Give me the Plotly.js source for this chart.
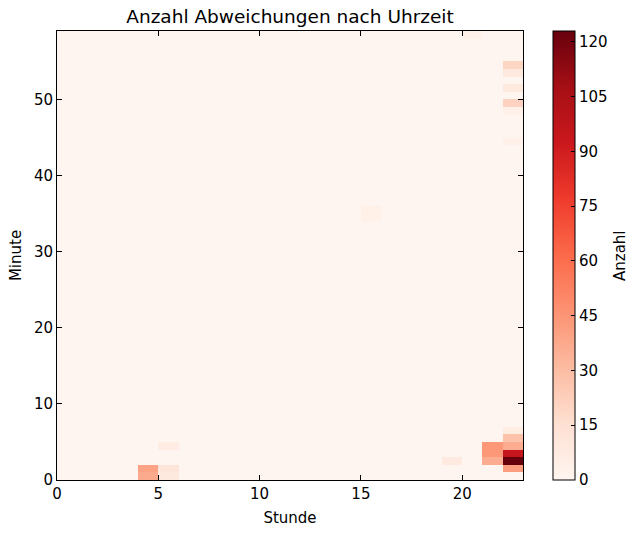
<!DOCTYPE html>
<html>
<head>
<meta charset="utf-8">
<script src="https://cdn.plot.ly/plotly-3.0.1.min.js"></script>
<style>html,body{margin:0;padding:0;background:#fff;}#chart{width:640px;height:536px;}</style>
</head>
<body>
<div id="chart"></div>
<script>
// Bin edges: hours 0..23, minutes 0..59
var hourEdges = [];
for (var h = 0; h <= 23; h++) hourEdges.push(h);
var minuteEdges = [];
for (var m = 0; m <= 59; m++) minuteEdges.push(m);

// Non-zero cells (hour, minute, count)
var cellHours   = [22, 22, 22, 22, 22, 22, 21, 21, 21, 19, 4, 4, 5, 5, 5, 22, 22, 22, 22, 22, 22, 15, 15, 20];
var cellMinutes = [ 1,  2,  3,  4,  5,  6,  2,  3,  4,  2, 0, 1, 0, 1, 4, 54, 53, 51, 49, 48, 44, 34, 35, 58];
var cellCounts  = [42, 123, 95, 36, 28, 6, 36, 44, 44, 8, 37, 40, 9, 12, 6, 20, 9, 9, 21, 4, 3, 4, 4, 3];

var nH = hourEdges.length - 1, nM = minuteEdges.length - 1;
var z = [];
for (var i = 0; i < nM; i++) { var row = []; for (var j = 0; j < nH; j++) row.push(0); z.push(row); }
for (var k = 0; k < cellCounts.length; k++) z[cellMinutes[k]][cellHours[k]] = cellCounts[k];

var reds = [
  [0, '#fff5f0'], [0.125, '#fee0d2'], [0.25, '#fcbba1'], [0.375, '#fc9272'],
  [0.5, '#fb6a4a'], [0.625, '#ef3b2c'], [0.75, '#cb181d'], [0.875, '#a50f15'], [1, '#67000d']
];
var cbTicks = [0, 15, 30, 45, 60, 75, 90, 105, 120];

var FONT = 'DejaVu Sans';
var trace = {
  type: 'heatmap',
  x: hourEdges, y: minuteEdges, z: z,
  zmin: 0, zmax: 123,
  colorscale: reds,
  colorbar: {
    x: (553 - 57) / 466, xref: 'paper', xanchor: 'left', xpad: 0,
    y: 0.5, len: 1, lenmode: 'fraction', ypad: 0,
    thickness: 22, thicknessmode: 'pixels',
    outlinecolor: '#000', outlinewidth: 1,
    tickvals: cbTicks, ticktext: cbTicks.map(String),
    ticks: 'inside', ticklen: 4, tickcolor: '#000',
    tickfont: {family: FONT, size: 15, color: '#000'}
  },
  hoverinfo: 'x+y+z'
};

var axCommon = {
  showline: true, linecolor: '#000', linewidth: 1, mirror: 'ticks',
  ticks: 'inside', ticklen: 5, tickcolor: '#000',
  showgrid: false, zeroline: false,
  tickfont: {family: FONT, size: 15, color: '#000'}
};

var layout = {
  width: 640, height: 536,
  margin: {l: 57, r: 117, t: 31, b: 56, pad: 0, autoexpand: false},
  paper_bgcolor: '#fff', plot_bgcolor: '#fff',
  title: {text: 'Anzahl Abweichungen nach Uhrzeit', x: 0.5 * (57 + 523) / 640, xanchor: 'center', y: 1 - 17 / 536, yanchor: 'middle',
          font: {family: FONT, size: 18.5, color: '#000'}},
  xaxis: Object.assign({}, axCommon, {range: [0, 23], tickvals: [0, 5, 10, 15, 20],
          title: {text: 'Stunde', standoff: 10, font: {family: FONT, size: 15, color: '#000'}}}),
  yaxis: Object.assign({}, axCommon, {range: [0, 59], tickvals: [0, 10, 20, 30, 40, 50],
          title: {text: 'Minute', standoff: 8, font: {family: FONT, size: 15, color: '#000'}}}),
  annotations: [{
    text: 'Anzahl', textangle: -90, showarrow: false,
    xref: 'paper', yref: 'paper', x: (620 - 57) / 466, y: (480 - 256) / 449,
    xanchor: 'center', yanchor: 'middle',
    font: {family: FONT, size: 15, color: '#000'}
  }],
  showlegend: false
};

Plotly.newPlot('chart', [trace], layout, {displayModeBar: false, staticPlot: true});
</script>
</body>
</html>
